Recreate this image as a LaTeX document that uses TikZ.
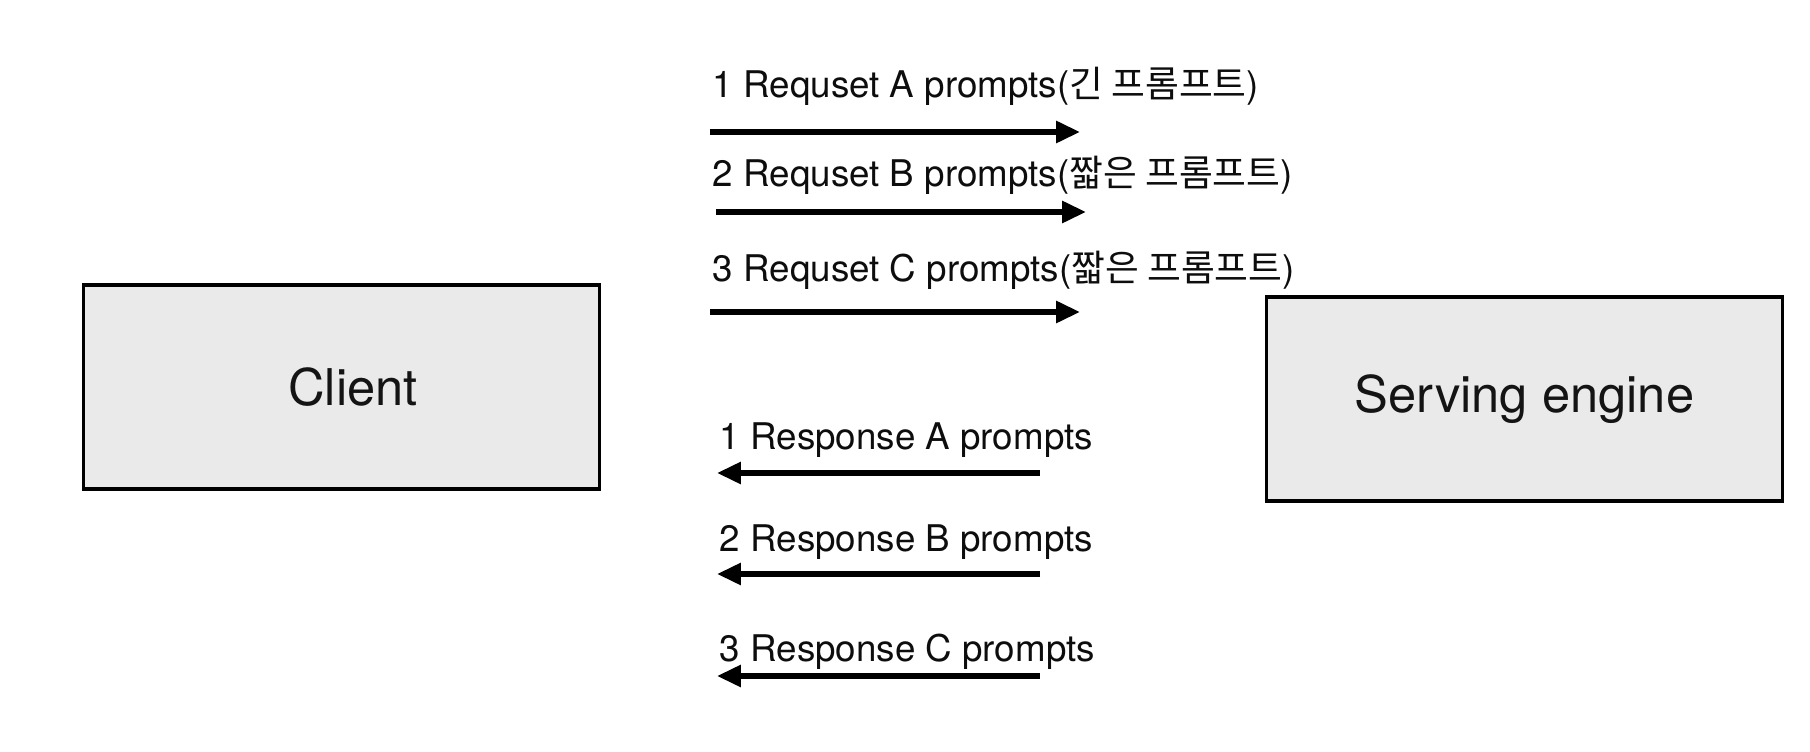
\documentclass[tikz,border=0pt]{standalone}
\usepackage{fontspec}
\setmainfont{TeX Gyre Heros}
\newfontfamily\kr{Noto Sans CJK KR}
\usetikzlibrary{arrows.meta, positioning}
\definecolor{boxgray}{RGB}{234,234,234}
\tikzset{
  box/.style={draw=black, line width=0.9pt, fill=boxgray, minimum width=5.15cm, minimum height=2.04cm, font=\fontsize{14.4}{17}\selectfont, text=black!92},
  lbl/.style={anchor=base west, inner sep=0pt, font=\fontsize{10.45}{12}\selectfont, text=black!95},
  msg/.style={line width=1.55pt, -{Triangle[length=6.8pt,width=6pt]}},
}
\begin{document}
\begin{tikzpicture}[x=0.01cm, y=-0.01cm]
\useasboundingbox (0,0) rectangle (1810,752);

\node[box] (client) at (341.5,387) {\hspace*{0.23cm}Client};
\node[box] (engine) at (1524.5,399) {Serving engine};

% requests
\node[lbl] (rq1) at (712,98) {1 Requset A prompts({\kr 긴 프롬프트})};
\node[lbl] (rq2) at (712,187) {2 Requset B prompts({\kr 짧은 프롬프트})};
\node[lbl] (rq3) at (712,282) {3 Requset C prompts({\kr 짧은 프롬프트})};
\coordinate (rq1s) at (710,132); \coordinate (rq1e) at (1080,132);
\coordinate (rq2s) at (716,212); \coordinate (rq2e) at (1086,212);
\coordinate (rq3s) at (710,312); \coordinate (rq3e) at (1080,312);
\draw[msg] (rq1s) -- (rq1e);
\draw[msg] (rq2s) -- (rq2e);
\draw[msg] (rq3s) -- (rq3e);

% responses
\node[lbl] (rs1) at (719,449) {1 Response A prompts};
\node[lbl] (rs2) at (719,551) {2 Response B prompts};
\node[lbl] (rs3) at (719,661) {3 Response C prompts};
\coordinate (rs1s) at (1040,473); \coordinate (rs1e) at (717,473);
\coordinate (rs2s) at (1040,574); \coordinate (rs2e) at (717,574);
\coordinate (rs3s) at (1040,676); \coordinate (rs3e) at (717,676);
\draw[msg] (rs1s) -- (rs1e);
\draw[msg] (rs2s) -- (rs2e);
\draw[msg] (rs3s) -- (rs3e);
\end{tikzpicture}
\end{document}
